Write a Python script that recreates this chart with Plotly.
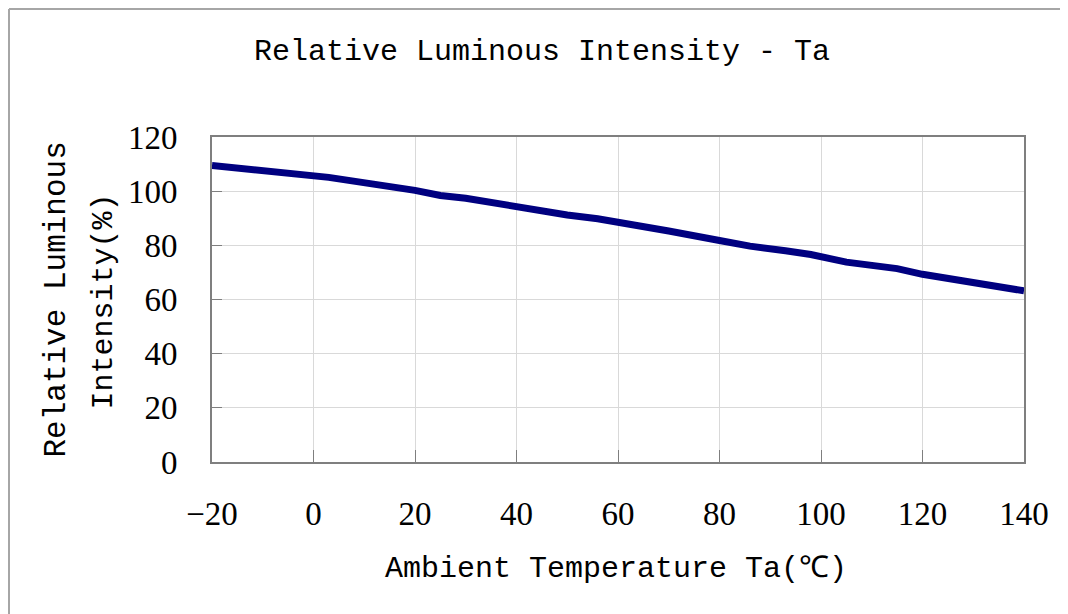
import plotly.graph_objects as go

temperature = [-20, 0, 3, 20, 25, 30, 35, 40, 44, 50, 56, 60, 70, 80, 86, 93, 98, 105, 110, 115, 120, 126, 130, 134, 140]
intensity = [109.5, 105.7, 105.1, 100.3, 98.4, 97.4, 95.8, 93.9, 92.6, 91.2, 89.8, 88.6, 85.3, 81.8, 79.7, 78.0, 76.6, 73.8, 72.4, 71.4, 69.3, 67.5, 66.1, 65.4, 63.2]
x_ticks = [-20, 0, 20, 40, 60, 80, 100, 120, 140]
y_ticks = [0, 20, 40, 60, 80, 100, 120]

title_text = "Relative Luminous Intensity - Ta"
x_title = "Ambient Temperature Ta(℃)"
y_title_lines = ["Relative Luminous", "Intensity(%)"]

W, H = 1068, 614
L, R, T, B = 204, 52, 129, 160
pw, ph = W - L - R, H - T - B

mono = "Liberation Mono, DejaVu Sans Mono, monospace"
serif = "Liberation Serif, Times New Roman, serif"

fig = go.Figure()
fig.add_trace(go.Scatter(x=temperature, y=intensity, mode="lines",
                         line=dict(color="#000080", width=7), showlegend=False,
                         hoverinfo="skip"))

axis_common = dict(showline=True, linecolor="#7f7f7f", linewidth=2, mirror=True,
                   showgrid=True, gridcolor="#d9d9d9", gridwidth=1,
                   ticks="inside", tickcolor="#7f7f7f", tickwidth=1,
                   zeroline=False,
                   tickfont=dict(family=serif, size=33, color="#000000"))

fig.update_xaxes(range=[-20, 140], tickvals=x_ticks, ticklen=12,
                 ticklabelstandoff=21, **axis_common)
fig.update_yaxes(range=[0, 120], tickvals=y_ticks, ticklen=10,
                 ticklabelstandoff=26, **axis_common)

annotations = [
    dict(text=x_title, xref="paper", yref="paper", x=0.5, y=0, xanchor="center",
         yanchor="middle", yshift=-107, xshift=-2, showarrow=False,
         font=dict(family=mono, size=30, color="#000000")),
    dict(text=y_title_lines[0], xref="paper", yref="paper", x=0, y=0.5, xanchor="center",
         yanchor="middle", xshift=55 - 211, textangle=-90, showarrow=False,
         font=dict(family=mono, size=31, color="#000000")),
    dict(text=y_title_lines[1], xref="paper", yref="paper", x=0, y=0.5, xanchor="center",
         yanchor="middle", xshift=102 - 211, yshift=-2, textangle=-90, showarrow=False,
         font=dict(family=mono, size=30, color="#000000")),
]

x_left = (1 - L) / pw
x_right = (W - L) / pw
y_top = 1 + (T - 1) / ph
y_bottom = -(H - T - ph) / ph

fig.update_layout(
    width=W, height=H,
    margin=dict(l=L, r=R, t=T, b=B),
    paper_bgcolor="white", plot_bgcolor="white",
    title=dict(text=title_text, x=534 / W, xanchor="center", xref="container",
               y=1 - 41 / H, yanchor="middle", yref="container",
               font=dict(family=mono, size=30, color="#000000")),
    annotations=annotations,
    shapes=[
        dict(type="line", xref="paper", yref="paper", x0=x_left, x1=x_right,
             y0=y_top, y1=y_top, line=dict(color="#a6a6a6", width=2), layer="below"),
        dict(type="line", xref="paper", yref="paper", x0=x_left, x1=x_left,
             y0=y_bottom, y1=y_top, line=dict(color="#a6a6a6", width=2), layer="below"),
    ],
)

fig.write_html("out.html")
